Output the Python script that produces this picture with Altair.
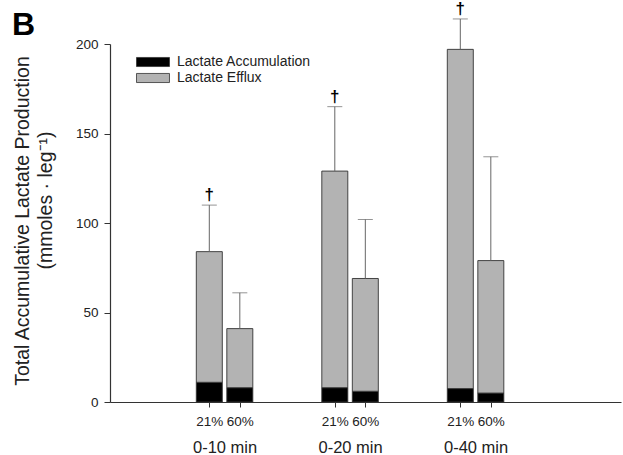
import altair as alt
import pandas as pd

# ---- data ----
groups = ["0-10 min", "0-20 min", "0-40 min"]
conditions = ["21%", "60%"]
components = ["Lactate Accumulation", "Lactate Efflux"]
total_21 = [84, 129, 197]
total_60 = [41, 69, 79]
accum_21 = [11, 8, 7.5]
accum_60 = [8, 6, 5]
err_21 = [26, 36, 17]
err_60 = [20, 33, 58]
dagger_21 = [True, True, True]
ylab1 = "Total Accumulative Lactate Production"
ylab2 = "(mmoles \u00b7 leg\u207b\u00b9)"
panel = "B"

# ---- build tables ----
offset = 0.1216
bar_rows, err_rows, dag_rows, tick_pos = [], [], [], []
for gi, g in enumerate(groups):
    for ci, c in enumerate(conditions):
        pos = gi + 1 + (-offset if ci == 0 else offset)
        tick_pos.append(pos)
        tot = (total_21 if ci == 0 else total_60)[gi]
        acc = (accum_21 if ci == 0 else accum_60)[gi]
        err = (err_21 if ci == 0 else err_60)[gi]
        bar_rows.append(dict(pos=pos, component=components[0], y0=0, y1=acc))
        bar_rows.append(dict(pos=pos, component=components[1], y0=acc, y1=tot))
        err_rows.append(dict(pos=pos, top=tot, hi=tot + err))
        if ci == 0 and dagger_21[gi]:
            dag_rows.append(dict(pos=pos, hi=tot + err, t="\u2020"))

bars_df = pd.DataFrame(bar_rows)
err_df = pd.DataFrame(err_rows)
dag_df = pd.DataFrame(dag_rows)
grp_df = pd.DataFrame(dict(pos=[i + 1 for i in range(len(groups))], g=groups))

FONT = "Liberation Sans"
xscale = alt.Scale(domain=[0.127, 4.119], nice=False, zero=False)
yscale = alt.Scale(domain=[0, 200], nice=False)

sub_expr = f"datum.value < round(datum.value) ? '{conditions[0]}' : '{conditions[1]}'"
grp_expr = "[" + ",".join(f"'{g}'" for g in groups) + "][round(datum.value) - 1]"

legend_path = "M-2,-0.55L2,-0.55L2,0.55L-2,0.55Z"

yaxis = alt.Axis(values=[0, 50, 100, 150, 200], grid=False, tickSize=6,
                 labelPadding=6, labelFontSize=13.5, labelFont=FONT,
                 labelColor="#222222", domainColor="#333333", tickColor="#333333",
                 domainWidth=1.2, tickWidth=1,
                 title=ylab1, titleFont=FONT, titleFontSize=19.5,
                 titleFontWeight="normal", titleColor="#222222",
                 titleX=-88, titleY=176.5, titleAngle=270,
                 titleAlign="center", titleBaseline="middle")

bars = alt.Chart(bars_df).mark_bar(size=26, stroke="#333333", strokeWidth=0.9).encode(
    x=alt.X("pos:Q", scale=xscale,
            axis=alt.Axis(values=tick_pos, labelExpr=sub_expr, title=None, grid=False,
                          tickSize=5, labelPadding=7, labelFontSize=13.5, labelFont=FONT,
                          labelColor="#222222", domainColor="#333333", tickColor="#333333",
                          domainWidth=1.2, tickWidth=1)),
    y=alt.Y("y1:Q", scale=yscale, axis=yaxis),
    y2="y0:Q",
    color=alt.Color("component:N",
                    scale=alt.Scale(domain=components, range=["#000000", "#b3b3b3"]),
                    legend=alt.Legend(title=None, orient="none", legendX=34, legendY=9,
                                      symbolType=legend_path, symbolSize=272,
                                      symbolStrokeColor="#333333", symbolStrokeWidth=0.8,
                                      labelOffset=15, labelFontSize=14, labelFont=FONT,
                                      labelColor="#222222", rowPadding=0, padding=0)),
    order=alt.Order("y0:Q"),
)

rules = alt.Chart(err_df).mark_rule(color="#666666", strokeWidth=1).encode(
    x=alt.X("pos:Q", scale=xscale, axis=None), y=alt.Y("top:Q", scale=yscale, axis=yaxis),
    y2="hi:Q")
caps = alt.Chart(err_df).mark_tick(orient="horizontal", size=15, thickness=1,
                                   color="#666666").encode(
    x=alt.X("pos:Q", scale=xscale, axis=None), y=alt.Y("hi:Q", scale=yscale, axis=yaxis))
daggers = alt.Chart(dag_df).mark_text(fontSize=17, fontWeight="bold", font=FONT,
                                      baseline="alphabetic", dy=-5, color="#000000").encode(
    x=alt.X("pos:Q", scale=xscale, axis=None), y=alt.Y("hi:Q", scale=yscale, axis=yaxis),
    text="t:N")

grp_axis = alt.Chart(grp_df).mark_text(opacity=0).encode(
    x=alt.X("pos:Q", scale=xscale,
            axis=alt.Axis(orient="bottom", values=[1, 2, 3], labelExpr=grp_expr, title=None,
                          domain=False, ticks=False, labelPadding=37, labelFontSize=16.5,
                          labelFont=FONT, labelColor="#222222", grid=False)),
    text="g:N")

ytitle2 = alt.Chart(pd.DataFrame(dict(t=[ylab2]))).mark_text(
    angle=270, fontSize=19.5, font=FONT, color="#222222", align="center",
    baseline="middle").encode(text="t:N", x=alt.value(-64), y=alt.value(156.5))

panel_lbl = alt.Chart(pd.DataFrame(dict(t=[panel]))).mark_text(
    fontSize=32, fontWeight="bold", font=FONT, color="#000000", align="left",
    baseline="alphabetic").encode(text="t:N", x=alt.value(-98), y=alt.value(-9))

chart = alt.layer(bars, rules, caps, daggers, grp_axis, ytitle2, panel_lbl).resolve_axis(
    x="independent"
).properties(
    width=511, height=358,
    autosize=alt.AutoSizeParams(type="none"),
    padding={"left": 110, "top": 44, "right": 2, "bottom": 53},
    background="white",
).configure_view(stroke=None)

chart.save("out.html", embed_options={"renderer": "svg", "actions": False})
